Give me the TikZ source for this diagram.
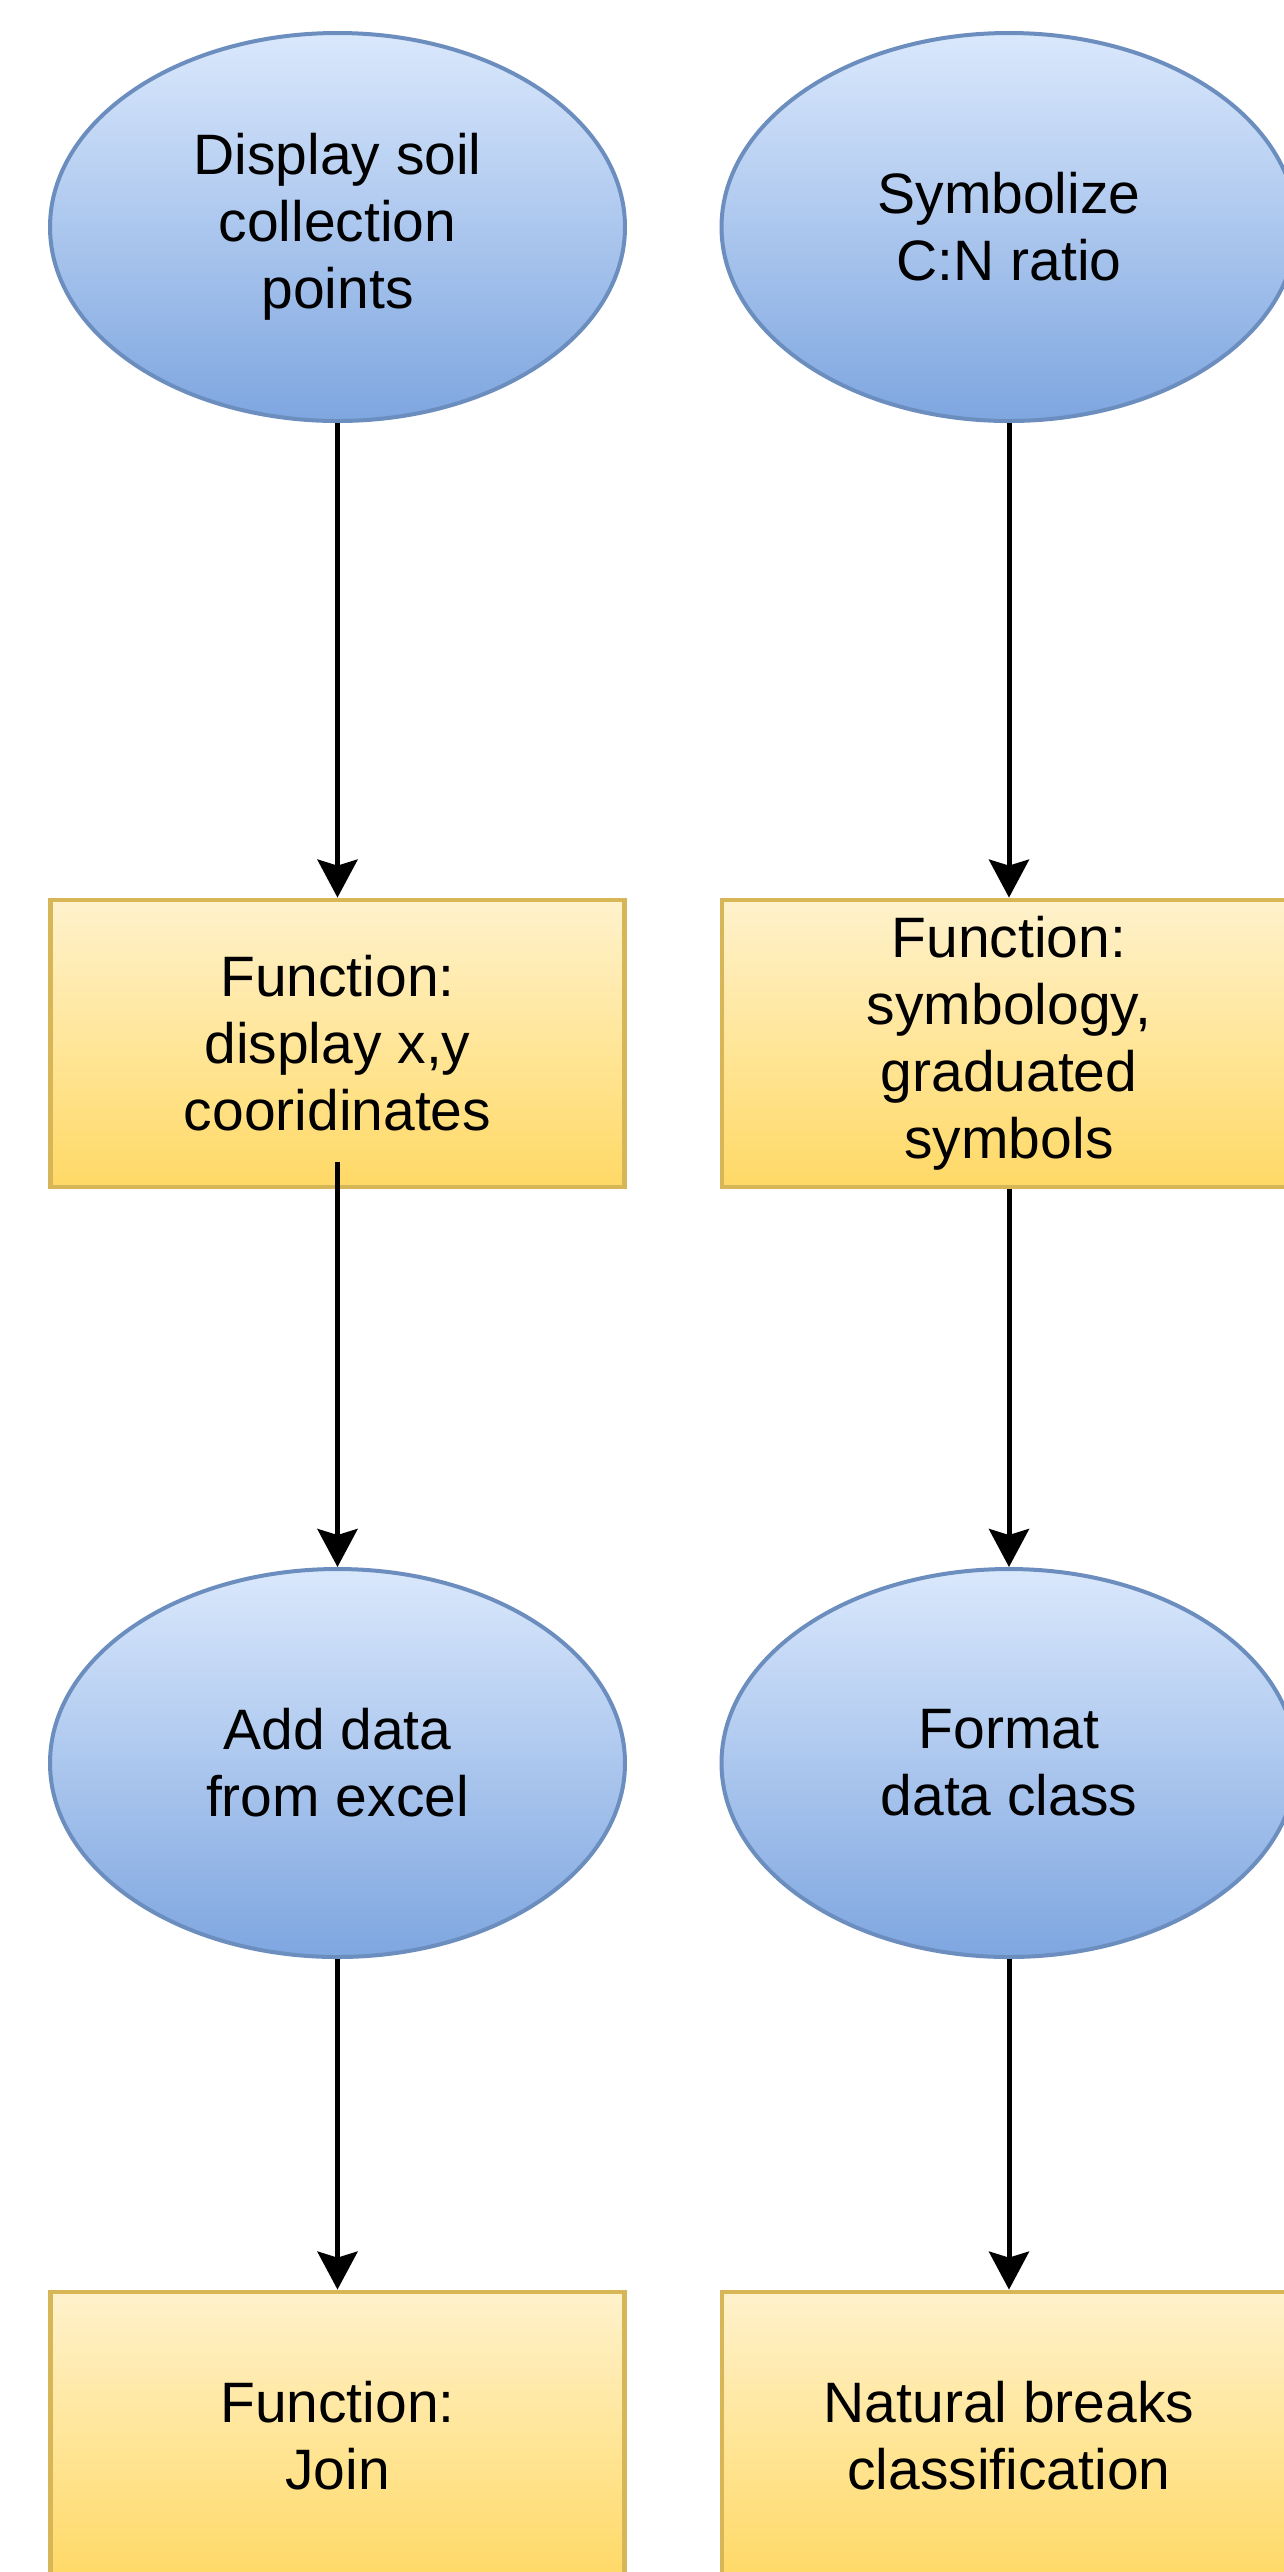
\documentclass[tikz,border=0pt]{standalone}
\usepackage{fontspec}
\setmainfont{Liberation Sans}
\usetikzlibrary{shapes.geometric,arrows.meta}
\definecolor{elltop}{HTML}{DAE8FC}
\definecolor{ellbot}{HTML}{7EA6E0}
\definecolor{ellline}{HTML}{6C8EBF}
\definecolor{boxtop}{HTML}{FFF2CC}
\definecolor{boxbot}{HTML}{FFD966}
\definecolor{boxline}{HTML}{D6B656}
\tikzset{
  basetext/.style={font=\fontsize{28.5}{33.5}\selectfont, align=center, text=black},
  ellnode/.style={basetext, ellipse, draw=ellline, line width=2pt,
    top color=elltop, bottom color=ellbot,
    minimum width=287.5pt, minimum height=194pt, inner sep=0pt},
  boxnode/.style={basetext, rectangle, draw=boxline, line width=2.4pt,
    top color=boxtop, bottom color=boxbot,
    minimum width=287pt, minimum height=143.5pt, inner sep=0pt},
  flowarrow/.style={draw=black, line width=2.5pt,
    -{Stealth[length=19pt, width=20pt, inset=3pt]}}
}
\begin{document}
\begin{tikzpicture}[x=0.5pt, y=-0.5pt]
\useasboundingbox (0,0) rectangle (1284,2572);
\begin{scope}
\clip (0,0) rectangle (1284,2572);
% row 1
\node[ellnode] (e1) at (337.5,227) {Display soil\\collection\\points};
\node[ellnode] (e2) at (1009,227) {Symbolize\\C:N ratio};
% row 2
\node[boxnode] (b1) at (337.5,1043.5) {Function:\\display x,y\\cooridinates};
\node[boxnode] (b2) at (1009,1043.5) {Function:\\symbology,\\graduated\\symbols};
% row 3
\node[ellnode] (e3) at (337.5,1763) {Add data\\from excel};
\node[ellnode] (e4) at (1009,1763) {Format\\data class};
% row 4
\node[boxnode] (b3) at (337.5,2435.5) {Function:\\Join};
\node[boxnode] (b4) at (1009,2435.5) {Natural breaks\\classification};
% connectors
\draw[flowarrow] (e1.south) -- (b1.north);
\draw[flowarrow] (e2.south) -- (b2.north);
\draw[flowarrow] ([yshift=13.5pt]b1.south) -- (e3.north);
\draw[flowarrow] (b2.south) -- (e4.north);
\draw[flowarrow] (e3.south) -- (b3.north);
\draw[flowarrow] (e4.south) -- (b4.north);
\end{scope}
\end{tikzpicture}
\end{document}
